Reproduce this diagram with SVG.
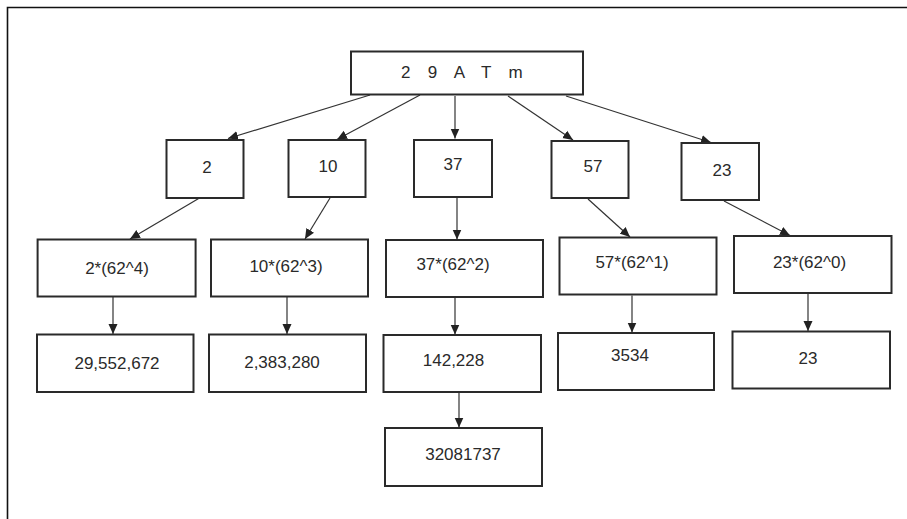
<svg xmlns="http://www.w3.org/2000/svg" width="907" height="519" viewBox="0 0 907 519">
<defs>
<style>
.box{fill:#fff;stroke:#2a2a2a;stroke-width:2}
.t{font-family:"Liberation Sans",Arial,sans-serif;font-size:17px;fill:#2a2a2a;text-anchor:middle}
.c{stroke:#333;stroke-width:1.2;fill:none;marker-end:url(#ah)}
</style>
<marker id="ah" markerUnits="userSpaceOnUse" markerWidth="10" markerHeight="10" refX="10" refY="5" orient="auto" viewBox="0 0 10 10">
<path d="M0,0.5 L10,5 L0,9.5 z" fill="#222"/>
</marker>
</defs>
<rect width="907" height="519" fill="#fff"/>
<path d="M7.5,519 V7.5 H907" fill="none" stroke="#111" stroke-width="1.6"/>

<g id="connectors">
<line class="c" x1="370" y1="95" x2="228" y2="138.5"/>
<line class="c" x1="420" y1="95" x2="337" y2="139.5"/>
<line class="c" x1="455" y1="96" x2="455" y2="138.5"/>
<line class="c" x1="508" y1="96" x2="573" y2="140"/>
<line class="c" x1="566" y1="96" x2="711" y2="142.5"/>
<line class="c" x1="199.5" y1="198" x2="130" y2="239"/>
<line class="c" x1="330" y1="198" x2="305" y2="239"/>
<line class="c" x1="457" y1="198" x2="457" y2="239.5"/>
<line class="c" x1="588" y1="199" x2="630" y2="237"/>
<line class="c" x1="724" y1="201" x2="790" y2="235.5"/>
<line class="c" x1="113" y1="297" x2="113" y2="334"/>
<line class="c" x1="287" y1="297" x2="287" y2="334"/>
<line class="c" x1="455" y1="298" x2="455" y2="334.5"/>
<line class="c" x1="632" y1="295.5" x2="632" y2="332.5"/>
<line class="c" x1="808" y1="294" x2="808" y2="331"/>
<line class="c" x1="459" y1="393" x2="459" y2="427.5"/>
</g>

<g id="root"><rect class="box" x="351" y="51.5" width="232" height="43"/><text class="t" x="465" y="78" letter-spacing="6.3">2 9 A T m</text></g>

<g id="n2"><rect class="box" x="166.5" y="140" width="77" height="58"/><text class="t" x="207" y="173">2</text></g>
<g id="n10"><rect class="box" x="288.5" y="140" width="77" height="57"/><text class="t" x="328" y="172">10</text></g>
<g id="n37"><rect class="box" x="414" y="140" width="78" height="57"/><text class="t" x="453" y="170">37</text></g>
<g id="n57"><rect class="box" x="551.5" y="141" width="77" height="57"/><text class="t" x="593" y="172">57</text></g>
<g id="n23"><rect class="box" x="681.5" y="143" width="77.5" height="57"/><text class="t" x="722" y="176">23</text></g>

<g id="p2"><rect class="box" x="37.6" y="239.5" width="158" height="57"/><text class="t" x="117" y="273.5">2*(62^4)</text></g>
<g id="p10"><rect class="box" x="211" y="239.5" width="157" height="57"/><text class="t" x="286" y="272">10*(62^3)</text></g>
<g id="p37"><rect class="box" x="386" y="240" width="157" height="57"/><text class="t" x="453" y="270">37*(62^2)</text></g>
<g id="p57"><rect class="box" x="559.5" y="237.5" width="157" height="57"/><text class="t" x="632" y="268">57*(62^1)</text></g>
<g id="p23"><rect class="box" x="734" y="236" width="157.5" height="57"/><text class="t" x="809.5" y="268">23*(62^0)</text></g>

<g id="r2"><rect class="box" x="37" y="334.5" width="156.5" height="57.5"/><text class="t" x="117" y="369">29,552,672</text></g>
<g id="r10"><rect class="box" x="209" y="334.5" width="157" height="57.5"/><text class="t" x="282" y="368">2,383,280</text></g>
<g id="r37"><rect class="box" x="383.5" y="335" width="157.5" height="57"/><text class="t" x="453.5" y="366">142,228</text></g>
<g id="r57"><rect class="box" x="558" y="333" width="156" height="57"/><text class="t" x="630" y="361">3534</text></g>
<g id="r23"><rect class="box" x="732.5" y="331.5" width="157.5" height="57"/><text class="t" x="808" y="364">23</text></g>

<g id="sum"><rect class="box" x="385" y="428" width="157" height="58"/><text class="t" x="463" y="459.5">32081737</text></g>
</svg>
